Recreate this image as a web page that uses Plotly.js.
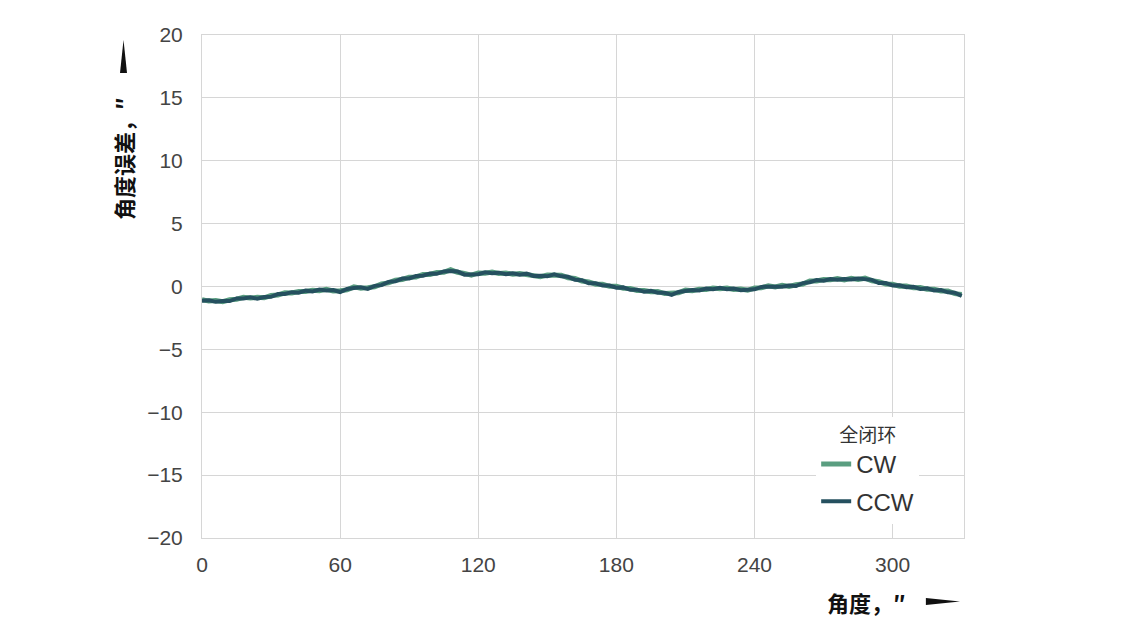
<!DOCTYPE html>
<html>
<head>
<meta charset="utf-8">
<script src="https://cdn.plot.ly/plotly-3.0.1.min.js"></script>
<style>
  html, body { margin: 0; padding: 0; background: #fff; }
  #chart { width: 1134px; height: 635px; }
</style>
</head>
<body>
<div id="chart"></div>
<script>
// angle, deg
var angles = [0, 3, 6, 9, 12, 15, 18, 21, 24, 27, 30, 33, 36, 39, 42, 45, 48, 51, 54, 57,
    60, 63, 66, 69, 72, 75, 78, 81, 84, 87, 90, 93, 96, 99, 102, 105, 108, 111, 114, 117,
    120, 123, 126, 129, 132, 135, 138, 141, 144, 147, 150, 153, 156, 159, 162, 165, 168, 171, 174, 177,
    180, 183, 186, 189, 192, 195, 198, 201, 204, 207, 210, 213, 216, 219, 222, 225, 228, 231, 234, 237,
    240, 243, 246, 249, 252, 255, 258, 261, 264, 267, 270, 273, 276, 279, 282, 285, 288, 291, 294, 297,
    300, 303, 306, 309, 312, 315, 318, 321, 324, 327, 330];

// angle error, arcsec
var cwError = [-1.04, -1.16, -1.12, -1.21, -1.06, -1.01, -0.86, -0.92, -0.86, -0.90, -0.72, -0.67, -0.50, -0.52, -0.40, -0.40, -0.29, -0.34, -0.23, -0.35,
    -0.33, -0.27, -0.03, -0.14, -0.09, -0.02, 0.21, 0.29, 0.51, 0.56, 0.74, 0.76, 0.96, 0.96, 1.11, 1.13, 1.33, 1.13, 1.04, 0.90,
    1.08, 1.06, 1.15, 1.03, 1.08, 0.98, 1.04, 0.94, 0.94, 0.78, 0.91, 0.89, 0.90, 0.70, 0.64, 0.43, 0.36, 0.18, 0.18, 0.01,
    0.01, -0.14, -0.16, -0.32, -0.32, -0.42, -0.39, -0.56, -0.55, -0.50, -0.29, -0.34, -0.22, -0.24, -0.12, -0.17, -0.12, -0.24, -0.20, -0.30,
    -0.12, -0.10, 0.06, -0.04, 0.09, 0.00, 0.14, 0.20, 0.44, 0.44, 0.56, 0.53, 0.64, 0.53, 0.66, 0.56, 0.66, 0.46, 0.38, 0.20,
    0.18, 0.03, 0.04, -0.10, -0.09, -0.22, -0.22, -0.35, -0.36, -0.57, -0.63];

var ccwError = [-1.13, -1.10, -1.22, -1.15, -1.16, -0.95, -0.96, -0.85, -0.97, -0.83, -0.82, -0.60, -0.59, -0.45, -0.49, -0.33, -0.39, -0.25, -0.32, -0.28,
    -0.44, -0.20, -0.12, -0.07, -0.19, 0.05, 0.11, 0.37, 0.41, 0.63, 0.64, 0.83, 0.86, 1.03, 1.01, 1.20, 1.24, 1.20, 0.94, 0.97,
    0.98, 1.13, 1.06, 1.10, 0.98, 1.05, 0.94, 1.02, 0.84, 0.85, 0.81, 0.97, 0.81, 0.77, 0.54, 0.50, 0.26, 0.25, 0.08, 0.08,
    -0.09, -0.07, -0.26, -0.25, -0.42, -0.35, -0.49, -0.50, -0.66, -0.43, -0.39, -0.27, -0.32, -0.17, -0.22, -0.10, -0.22, -0.17, -0.30, -0.23,
    -0.22, -0.03, -0.04, 0.03, -0.01, 0.07, 0.04, 0.27, 0.34, 0.51, 0.46, 0.60, 0.54, 0.60, 0.56, 0.63, 0.56, 0.53, 0.28, 0.27,
    0.08, 0.10, -0.06, -0.03, -0.19, -0.15, -0.32, -0.28, -0.46, -0.50, -0.74];

var xTicks = [0, 60, 120, 180, 240, 300];
var seriesNames = ['CW', 'CCW'];
var seriesColors = ['#5a9e80', '#25505f'];
var seriesWidths = [5, 4];

var tickFont = {family: 'Liberation Sans, Arial, sans-serif', size: 21, color: '#444'};
var cjkBold = {family: 'Noto Sans CJK SC, sans-serif', size: 22, color: '#111'};

var traces = [cwError, ccwError].map(function (ys, i) {
    return {
        x: angles,
        y: ys,
        name: seriesNames[i],
        legendgroup: seriesNames[i],
        type: 'scatter',
        mode: 'lines',
        line: {color: seriesColors[i], width: seriesWidths[i]}
    };
});

var layout = {
    width: 1134,
    height: 635,
    margin: {l: 202, r: 170, t: 35, b: 97, pad: 0},
    paper_bgcolor: '#fff',
    plot_bgcolor: '#fff',
    showlegend: true,
    xaxis: {
        range: [0, 331],
        tickvals: xTicks,
        showgrid: true,
        gridcolor: '#d6d6d6',
        gridwidth: 1,
        zeroline: false,
        showline: true,
        mirror: true,
        linecolor: '#d6d6d6',
        linewidth: 1,
        ticks: '',
        ticklabelstandoff: 8,
        tickfont: tickFont
    },
    yaxis: {
        range: [-20, 20],
        dtick: 5,
        showgrid: true,
        gridcolor: '#d6d6d6',
        gridwidth: 1,
        zeroline: false,
        showline: true,
        mirror: true,
        linecolor: '#d6d6d6',
        linewidth: 1,
        ticks: '',
        ticklabelstandoff: 14,
        tickfont: tickFont
    },
    legend: {
        x: 0.806,
        y: 0.24,
        xanchor: 'left',
        yanchor: 'top',
        bgcolor: '#fff',
        borderwidth: 0,
        traceorder: 'grouped',
        tracegroupgap: 3,
        font: {family: 'Liberation Sans, Arial, sans-serif', size: 24, color: '#333'},
        title: {
            text: '全闭环',
            side: 'top center',
            font: {family: 'Noto Sans CJK SC, sans-serif', size: 19, color: '#333'}
        }
    },
    annotations: [
        {
            // x axis title
            xref: 'paper', yref: 'paper',
            x: 0.927, y: -0.127,
            xanchor: 'right', yanchor: 'middle',
            text: '<b>角度，″</b>',
            showarrow: false,
            font: cjkBold
        },
        {
            // y axis title
            xref: 'paper', yref: 'paper',
            x: -0.104, y: 0.755,
            xanchor: 'center', yanchor: 'middle',
            textangle: -90,
            text: '<b>角度误差，″</b>',
            showarrow: false,
            font: cjkBold
        }
    ],
    shapes: [
        {
            // x title arrow
            type: 'path', xref: 'paper', yref: 'paper',
            path: 'M 0.950 -0.1193 L 0.950 -0.1332 L 0.9948 -0.1262 Z',
            fillcolor: '#111', line: {width: 0}
        },
        {
            // y title arrow
            type: 'path', xref: 'paper', yref: 'paper',
            path: 'M -0.1076 0.9245 L -0.0984 0.9245 L -0.1030 0.9901 Z',
            fillcolor: '#111', line: {width: 0}
        }
    ]
};

Plotly.newPlot('chart', traces, layout, {displayModeBar: false, staticPlot: true});
</script>
</body>
</html>
